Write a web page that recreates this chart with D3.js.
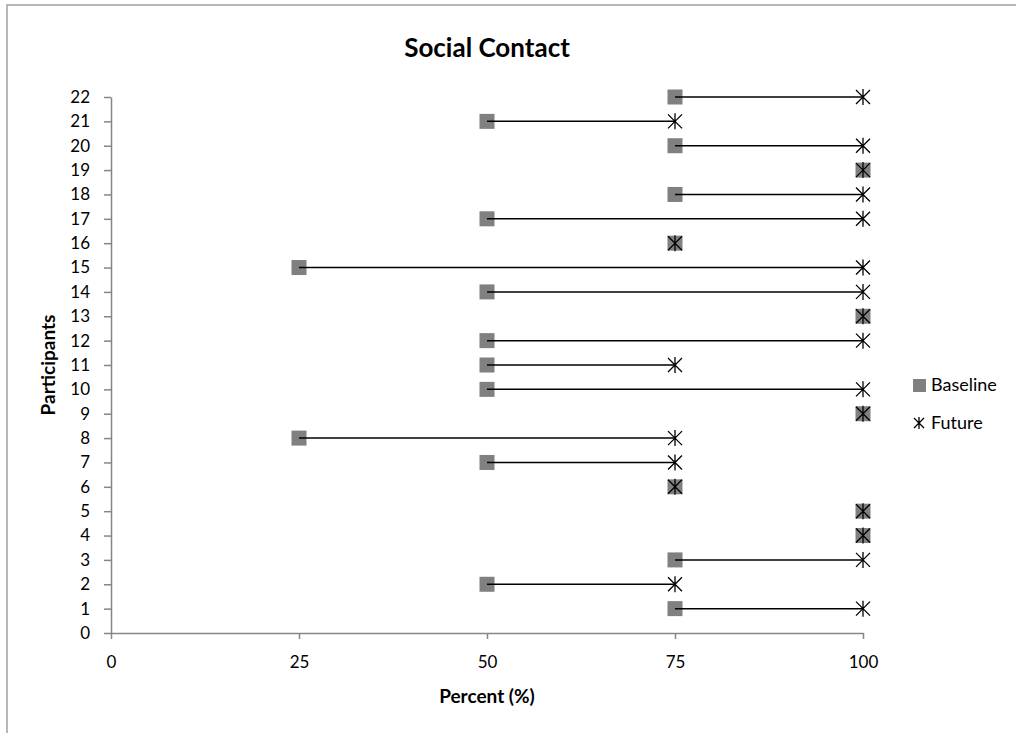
<!DOCTYPE html>
<html><head><meta charset="utf-8">
<script src="https://cdn.jsdelivr.net/npm/d3@7"></script>
<style>body{margin:0;background:#fff}svg{display:block}</style>
</head><body>
<script>
const participants = [1,2,3,4,5,6,7,8,9,10,11,12,13,14,15,16,17,18,19,20,21,22];
const baseline = [75,50,75,100,100,75,50,25,100,50,50,50,100,50,25,75,50,75,100,75,50,75];
const future   = [100,75,100,100,100,75,75,75,100,100,75,100,100,100,100,75,100,100,100,100,75,100];
const xTicks = [0,25,50,75,100];
const yTicks = d3.range(0,23);
const seriesNames = ["Baseline","Future"];

const W=1016,H=733;
const font="Lato, 'Open Sans', sans-serif";
const svg=d3.select("body").append("svg").attr("width",W).attr("height",H);
svg.append("rect").attr("x",7).attr("y",5).attr("width",W+10).attr("height",H+10)
  .attr("fill","none").attr("stroke","#a0a0a0").attr("stroke-width",1.5);

const x=d3.scaleLinear().domain([0,100]).range([111,863]);
const y=d3.scaleLinear().domain([0,22]).range([633,97]);

svg.append("text").attr("x",487).attr("y",57).attr("text-anchor","middle")
  .attr("font-family",font).attr("font-weight","bold").attr("font-size",26).text("Social Contact");

const xa=svg.append("g").attr("transform","translate(0,633)")
  .call(d3.axisBottom(x).tickValues(xTicks).tickSize(6).tickPadding(8).tickSizeOuter(0));
const ya=svg.append("g").attr("transform","translate(111,0)")
  .call(d3.axisLeft(y).tickValues(yTicks).tickSize(7).tickPadding(14).tickSizeOuter(0));
[xa,ya].forEach(a=>{
  a.select(".domain").attr("stroke","#868686").attr("stroke-width",1.5);
  a.selectAll(".tick line").attr("stroke","#868686").attr("stroke-width",1.5);
  a.selectAll("text").attr("font-family",font).attr("font-size",17).attr("fill","#000");
});
xa.selectAll("text").attr("y",35).attr("dy",0);

svg.append("text").attr("x",487).attr("y",703).attr("text-anchor","middle")
  .attr("font-family",font).attr("font-weight","bold").attr("font-size",19).text("Percent (%)");
svg.append("text").attr("transform","translate(55,365) rotate(-90)").attr("text-anchor","middle")
  .attr("font-family",font).attr("font-weight","bold").attr("font-size",19).text("Participants");

const data=participants.map((p,i)=>({p,b:baseline[i],f:future[i]}));
const S=15;
svg.append("g").selectAll("rect").data(data).join("rect")
  .attr("x",d=>x(d.b)-S/2).attr("y",d=>y(d.p)-S/2).attr("width",S).attr("height",S)
  .attr("fill","#808080");
svg.append("g").selectAll("line").data(data.filter(d=>d.b!==d.f)).join("line")
  .attr("x1",d=>x(d.b)).attr("x2",d=>x(d.f)).attr("y1",d=>y(d.p)).attr("y2",d=>y(d.p))
  .attr("stroke","#000").attr("stroke-width",1.5);
function star(g,cx,cy,r){
  g.append("path").attr("d",`M${cx-r},${cy-r}L${cx+r},${cy+r}M${cx-r},${cy+r}L${cx+r},${cy-r}M${cx},${cy-r-1}L${cx},${cy+r+1}`)
   .attr("stroke","#000").attr("stroke-width",1.3).attr("fill","none");
}
const sg=svg.append("g");
data.forEach(d=>star(sg,x(d.f),y(d.p),7));

// legend
svg.append("rect").attr("x",913).attr("y",379).attr("width",13).attr("height",13).attr("fill","#808080");
svg.append("text").attr("x",931).attr("y",391).attr("font-family",font).attr("font-size",18).text(seriesNames[0]);
star(svg,919,423,5);
svg.append("text").attr("x",931).attr("y",429).attr("font-family",font).attr("font-size",18).text(seriesNames[1]);
</script>
</body></html>
